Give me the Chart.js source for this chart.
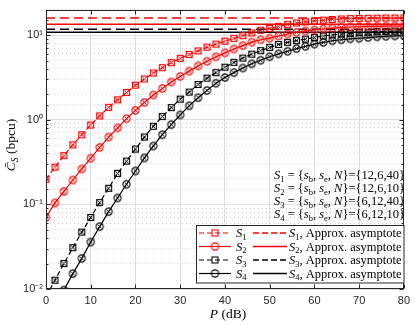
<!DOCTYPE html>
<html><head><meta charset="utf-8">
<script src="https://cdn.jsdelivr.net/npm/chart.js@4"></script>
<style>html,body{margin:0;padding:0;background:#fff}#wrap{position:relative;width:415px;height:325px}</style>
</head><body><div id="wrap"><canvas id="c" width="415" height="325"></canvas></div>
<script>
// ---------- data ----------
const powerDb = [0,2,4,6,8,10,12,14,16,18,20,22,24,26,28,30,32,34,36,38,40,42,44,46,48,50,52,54,56,58,60,62,64,66,68,70,72,74,76,78,80];
const s1Values = [0.198,0.275,0.377,0.505,0.665,0.865,1.11,1.40,1.72,2.10,2.56,3.03,3.56,4.12,4.72,5.31,5.90,6.50,7.20,7.83,8.48,9.15,9.85,10.6,11.4,12.0,12.7,13.3,13.9,14.3,14.7,15.0,15.3,15.5,15.65,15.75,15.8,15.85,15.9,15.9,15.9];
const s2Values = [0.070,0.104,0.142,0.194,0.262,0.351,0.471,0.623,0.80,1.03,1.29,1.60,1.96,2.34,2.79,3.25,3.75,4.32,4.90,5.54,6.16,6.85,7.50,8.25,8.8,9.2,9.75,10.3,10.8,11.2,11.5,11.8,12.1,12.3,12.45,12.55,12.65,12.7,12.75,12.8,12.8];
const s3Values = [0.0081,0.0127,0.020,0.0308,0.047,0.070,0.105,0.155,0.232,0.324,0.45,0.624,0.837,1.09,1.39,1.75,2.12,2.61,3.10,3.60,4.17,4.76,5.35,5.95,6.55,7.15,7.75,8.2,8.6,8.95,9.35,9.75,10.05,10.25,10.5,10.7,10.8,11.0,11.05,11.15,11.2];
const s4Values = [0.0039,0.0062,0.0097,0.0152,0.023,0.0359,0.0545,0.082,0.119,0.173,0.248,0.354,0.49,0.665,0.875,1.14,1.46,1.82,2.22,2.70,3.15,3.60,4.08,4.58,5.05,5.55,6.0,6.44,6.92,7.36,7.83,8.19,8.57,8.8,9.04,9.18,9.35,9.53,9.66,9.78,9.87];
const asymptoteValues = [15.9, 13.4, 11.7, 10.8];
const seriesNames = ['1','2','3','4'];
const sbValues = [12,12,6,6];
const seValues = [6,6,12,12];
const nValues = [40,10,40,10];
const xTickValues = [0,10,20,30,40,50,60,70,80];
const yTickValues = [0.01,0.1,1,10];
const yTickLabels = ['10\u207B\u00B2','10\u207B\u00B9','10\u2070','10\u00B9'];
const xRange = [0,80];
const yRange = [0.01,20];

// ---------- styles ----------
const RED = '#ff0000', BLACK = '#000000', AX = '#262626';
const serif = '"Liberation Serif","DejaVu Serif",serif';
const sans = '"Liberation Sans",Arial,sans-serif';

function makeMarker(shape, color){
  const c = document.createElement('canvas'); c.width = 11; c.height = 11;
  const g = c.getContext('2d'); g.strokeStyle = color; g.lineWidth = 1.1;
  if (shape === 'square') { g.strokeRect(2.5,2.5,6,6); }
  else { g.beginPath(); g.arc(5.5,5.5,3.6,0,Math.PI*2); g.stroke(); }
  g.lineWidth = 1;
  g.beginPath(); g.moveTo(3.5,3.5); g.lineTo(7.5,7.5); g.moveTo(7.5,3.5); g.lineTo(3.5,7.5); g.stroke();
  return c;
}
function makePlain(shape, color){
  const c = document.createElement('canvas'); c.width = 11; c.height = 11;
  const g = c.getContext('2d'); g.strokeStyle = color; g.lineWidth = 1.1;
  if (shape === 'square') { g.strokeRect(2.5,2.5,6,6); }
  else { g.beginPath(); g.arc(5.5,5.5,3.6,0,Math.PI*2); g.stroke(); }
  return c;
}

const curveStyles = [
  {color:RED, dash:[5,3], shape:'square'},
  {color:RED, dash:[], shape:'circle'},
  {color:BLACK, dash:[5,3], shape:'square'},
  {color:BLACK, dash:[], shape:'circle'}
];
const allSeries = [s1Values, s2Values, s3Values, s4Values];

const datasets = [];
allSeries.forEach((vals, k) => {
  const st = curveStyles[k];
  datasets.push({
    label: 'S' + seriesNames[k],
    data: powerDb.map((p,i) => ({x:p, y:vals[i]})),
    borderColor: st.color, backgroundColor: st.color,
    borderWidth: 1.2, borderDash: st.dash,
    pointStyle: makeMarker(st.shape, st.color), pointRadius: 4,
    tension: 0, order: 1
  });
});
asymptoteValues.forEach((v, k) => {
  const st = curveStyles[k];
  datasets.push({
    label: 'S' + seriesNames[k] + ', Approx. asymptote',
    data: [{x:xRange[0], y:v}, {x:xRange[1], y:v}],
    borderColor: st.color, borderWidth: 1.4,
    borderDash: st.dash.length ? [9,5] : [],
    pointRadius: 0, order: 2
  });
});

const isMajor = v => { const l = Math.log10(v); return Math.abs(l - Math.round(l)) < 1e-9; };

function drawRich(ctx, segs, x, y, align){
  let w = 0;
  segs.forEach(s => { ctx.font = s.f; s.w = ctx.measureText(s.t).width; w += s.w; });
  let cx = align === 'right' ? x - w : align === 'center' ? x - w/2 : x;
  ctx.textAlign = 'left'; ctx.textBaseline = 'alphabetic';
  segs.forEach(s => { ctx.font = s.f; ctx.fillText(s.t, cx, y + (s.dy || 0)); cx += s.w; });
  return w;
}

const decor = {
  id: 'decor',
  afterDatasetsDraw(chart){
    const ctx = chart.ctx, a = chart.chartArea;
    const xs = chart.scales.x, ys = chart.scales.y;
    ctx.save();
    ctx.strokeStyle = AX; ctx.lineWidth = 1;
    const L = Math.round(a.left)+0.5, R = Math.round(a.right)-0.5, T = Math.round(a.top)+0.5, B = Math.round(a.bottom)-0.5;
    ctx.strokeRect(L, T, R-L, B-T);
    ctx.beginPath();
    xTickValues.forEach(v => {
      const px = Math.round(xs.getPixelForValue(v)) + 0.5;
      ctx.moveTo(px, B); ctx.lineTo(px, B-4);
      ctx.moveTo(px, T); ctx.lineTo(px, T+4);
    });
    ys.ticks.forEach(t => {
      const py = Math.round(ys.getPixelForValue(t.value)) + 0.5;
      const len = isMajor(t.value) ? 4 : 2;
      ctx.moveTo(L, py); ctx.lineTo(L+len, py);
      ctx.moveTo(R, py); ctx.lineTo(R-len, py);
    });
    ctx.stroke();
    ctx.restore();
  },
  afterDraw(chart){
    const ctx = chart.ctx;
    ctx.save();
    ctx.fillStyle = '#000';
    // annotation text
    const fs = 12.5, sfs = 8.5;
    const it = `italic ${fs}px ${serif}`, rm = `${fs}px ${serif}`, sub = `${sfs}px ${serif}`;
    const baseY = [179, 192, 205, 218];
    for (let k = 0; k < 4; k++) {
      drawRich(ctx, [
        {t:'S', f:it}, {t:seriesNames[k], f:sub, dy:2.5}, {t:' = {', f:rm},
        {t:'s', f:it}, {t:'b', f:sub, dy:2.5}, {t:', ', f:rm},
        {t:'s', f:it}, {t:'e', f:sub, dy:2.5}, {t:', ', f:rm},
        {t:'N', f:it}, {t:'}={' + sbValues[k] + ',' + seValues[k] + ',' + nValues[k] + '}', f:rm}
      ], 405, baseY[k], 'right');
    }
    // legend
    const bx = 196.5, by = 225.5, bw = 207.5, bh = 57.5;
    ctx.fillStyle = '#fff'; ctx.fillRect(bx, by, bw, bh);
    ctx.strokeStyle = AX; ctx.lineWidth = 1; ctx.strokeRect(bx, by, bw, bh);
    const rowY = [233, 246.5, 260, 273.5];
    const lf = 12.5, lsf = 8.5;
    for (let k = 0; k < 4; k++) {
      const st = curveStyles[k], y = rowY[k];
      ctx.strokeStyle = st.color; ctx.lineWidth = 1.2;
      ctx.setLineDash(st.dash.length ? [5,3] : []);
      ctx.beginPath(); ctx.moveTo(199, y); ctx.lineTo(231, y); ctx.stroke();
      ctx.setLineDash([]);
      const mk = makePlain(st.shape, st.color);
      ctx.drawImage(mk, 215 - 5.5, y - 5.5);
      ctx.fillStyle = '#000';
      drawRich(ctx, [{t:'S', f:`italic ${lf}px ${serif}`}, {t:seriesNames[k], f:`${lsf}px ${serif}`, dy:2.5}], 236, y + 4, 'left');
      ctx.strokeStyle = st.color; ctx.lineWidth = 1.4;
      ctx.setLineDash(st.dash.length ? [6,3] : []);
      ctx.beginPath(); ctx.moveTo(253, y); ctx.lineTo(287, y); ctx.stroke();
      ctx.setLineDash([]);
      drawRich(ctx, [{t:'S', f:`italic ${lf}px ${serif}`}, {t:seriesNames[k], f:`${lsf}px ${serif}`, dy:2.5}, {t:', Approx. asymptote', f:`${lf}px ${serif}`}], 289, y + 4, 'left');
    }
    // x title
    ctx.fillStyle = '#000';
    drawRich(ctx, [{t:'P', f:`italic 13.5px ${serif}`}, {t:' (dB)', f:`13.5px ${serif}`}], 228, 318, 'center');
    // y title
    ctx.translate(15, 145); ctx.rotate(-Math.PI/2);
    drawRich(ctx, [{t:'C\u0304', f:`italic 13.5px ${serif}`}, {t:'S', f:`italic 9.5px ${serif}`, dy:3}, {t:' (bpcu)', f:`13.5px ${serif}`}], 0, 0, 'center');
    ctx.restore();
  }
};

new Chart(document.getElementById('c'), {
  type: 'line',
  data: { datasets },
  plugins: [decor],
  options: {
    responsive: false, animation: false, devicePixelRatio: 1,
    layout: { padding: { top: 2, right: 7, left: 0, bottom: 0 } },
    plugins: { legend: { display: false }, tooltip: { enabled: false } },
    scales: {
      x: {
        type: 'linear', min: xRange[0], max: xRange[1],
        afterFit: s => { s.height = 36; },
        afterBuildTicks: s => { s.ticks = xTickValues.map(v => ({value: v})); },
        ticks: { autoSkip: false, maxRotation: 0, padding: 5, color: AX, font: { family: sans, size: 11 }, callback: v => String(v) },
        grid: { color: '#dedede', lineWidth: 1, drawTicks: false },
        border: { display: false }
      },
      y: {
        type: 'logarithmic', min: yRange[0], max: yRange[1],
        afterFit: s => { s.width = 46; },
        ticks: { autoSkip: false, padding: 3, color: AX, font: { family: sans, size: 11 },
          callback: v => { const i = yTickValues.findIndex(t => Math.abs(t - v) / t < 1e-6); return i >= 0 ? yTickLabels[i] : ''; } },
        grid: { drawTicks: false, lineWidth: 1,
          color: c => (c.tick && isMajor(c.tick.value)) ? '#dedede' : '#cdcdcd' },
        border: { display: false, dash: c => (c.tick && !isMajor(c.tick.value)) ? [1,3] : [] }
      }
    }
  }
});
</script>
</body></html>
